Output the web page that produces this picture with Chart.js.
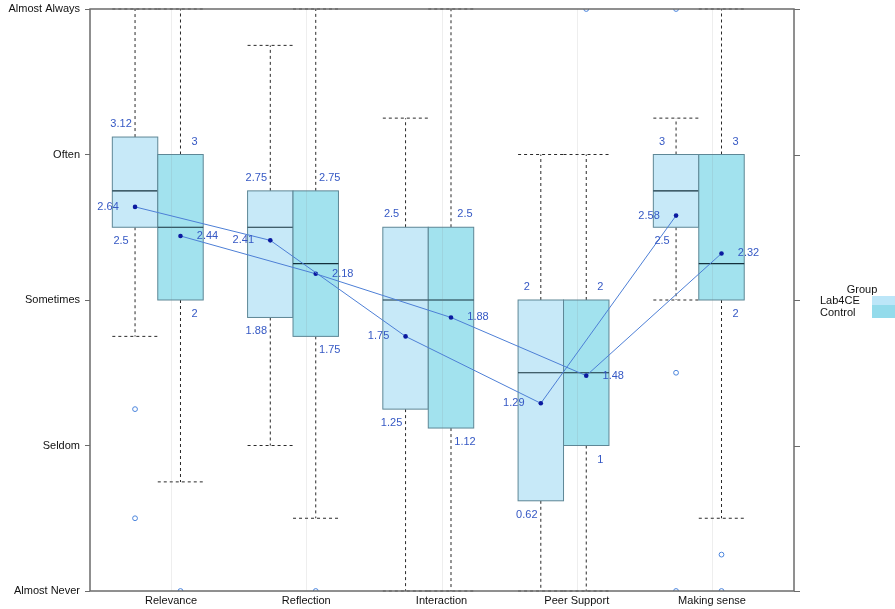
<!DOCTYPE html>
<html>
<head>
<meta charset="utf-8">
<script src="https://cdn.jsdelivr.net/npm/chart.js@4"></script>
<style>
  html, body { margin: 0; padding: 0; background: #fff; }
  canvas { display: block; }
</style>
</head>
<body>
<canvas id="boxChart" width="895" height="609" style="width:895px;height:609px"></canvas>
<script>
// categories and scale labels
const categories = ["Relevance", "Reflection", "Interaction", "Peer Support", "Making sense"];
const levelLabels = ["Almost Never", "Seldom", "Sometimes", "Often", "Almost Always"];

// Lab4CE group
const lab4ceLow = [1.75, 1, 0, 0, 2];
const lab4ceQ1 = [2.5, 1.88, 1.25, 0.62, 2.5];
const lab4ceMedian = [2.75, 2.5, 2, 1.5, 2.75];
const lab4ceQ3 = [3.12, 2.75, 2.5, 2, 3];
const lab4ceHigh = [4, 3.75, 3.25, 3, 3.25];
const lab4ceMean = [2.64, 2.41, 1.75, 1.29, 2.58];
const lab4ceOutliers = [[1.25, 0.5], [], [], [], [1.5, 0, 4]];

// Control group
const controlLow = [0.75, 0.5, 0, 0, 0.5];
const controlQ1 = [2, 1.75, 1.12, 1, 2];
const controlMedian = [2.5, 2.25, 2, 1.5, 2.25];
const controlQ3 = [3, 2.75, 2.5, 2, 3];
const controlHigh = [4, 4, 4, 3, 4];
const controlMean = [2.44, 2.18, 1.88, 1.48, 2.32];
const controlOutliers = [[0], [0], [], [4], [0.25, 0]];

// box geometry (x units, one category = 1)
const halfW = 0.168;
const groups = [
  { name: "Lab4CE", offset: -0.266, side: -1, fill: "#c7e9f8",
    low: lab4ceLow, q1: lab4ceQ1, med: lab4ceMedian, q3: lab4ceQ3, high: lab4ceHigh, mean: lab4ceMean, out: lab4ceOutliers },
  { name: "Control", offset: 0.07, side: 1, fill: "#a2e2ee",
    low: controlLow, q1: controlQ1, med: controlMedian, q3: controlQ3, high: controlHigh, mean: controlMean, out: controlOutliers }
];

const FONT = "11px 'Liberation Sans', Arial, sans-serif";
const LABEL_COLOR = "#3558c4";

function line(ctx, x1, y1, x2, y2) {
  ctx.beginPath();
  ctx.moveTo(x1, y1);
  ctx.lineTo(x2, y2);
  ctx.stroke();
}

const boxPlugin = {
  id: "boxes",
  beforeDatasetsDraw(chart) {
    const { ctx, chartArea: a, scales: { x, y } } = chart;
    ctx.save();
    groups.forEach((g) => {
      categories.forEach((c, i) => {
        const cx = i + 1 + g.offset;
        const left = x.getPixelForValue(cx - halfW);
        const right = x.getPixelForValue(cx + halfW);
        const mid = x.getPixelForValue(cx);
        const yLow = y.getPixelForValue(g.low[i]);
        const yQ1 = y.getPixelForValue(g.q1[i]);
        const yMed = y.getPixelForValue(g.med[i]);
        const yQ3 = y.getPixelForValue(g.q3[i]);
        const yHigh = y.getPixelForValue(g.high[i]);

        // whiskers
        ctx.strokeStyle = "#2a2a2a";
        ctx.lineWidth = 1;
        ctx.setLineDash([3, 3]);
        line(ctx, mid, yQ3, mid, yHigh);
        line(ctx, left, yHigh, right, yHigh);
        line(ctx, mid, yQ1, mid, yLow);
        line(ctx, left, yLow, right, yLow);
        ctx.setLineDash([]);

        // box
        ctx.fillStyle = g.fill;
        ctx.fillRect(left, yQ3, right - left, yQ1 - yQ3);
        ctx.strokeStyle = "#5e8796";
        ctx.strokeRect(left, yQ3, right - left, yQ1 - yQ3);

        // median
        ctx.strokeStyle = "#14303c";
        ctx.lineWidth = 1.2;
        line(ctx, left, yMed, right, yMed);
      });
    });

    // faint reference lines at category centres
    ctx.strokeStyle = "rgba(120,120,120,0.13)";
    ctx.lineWidth = 1;
    categories.forEach((c, i) => {
      const px = Math.round(x.getPixelForValue(i + 1)) + 0.5;
      line(ctx, px, a.top, px, a.bottom);
    });
    ctx.restore();
  },
  afterDatasetsDraw(chart) {
    const { ctx, scales: { x, y } } = chart;
    ctx.save();
    ctx.font = FONT;
    ctx.fillStyle = LABEL_COLOR;
    ctx.textAlign = "center";
    ctx.textBaseline = "middle";
    groups.forEach((g) => {
      categories.forEach((c, i) => {
        const mid = x.getPixelForValue(i + 1 + g.offset);
        ctx.fillText(String(g.q3[i]), mid + g.side * 14, y.getPixelForValue(g.q3[i]) - 13);
        ctx.fillText(String(g.q1[i]), mid + g.side * 14, y.getPixelForValue(g.q1[i]) + 14);
        ctx.fillText(String(g.mean[i]), mid + g.side * 27, y.getPixelForValue(g.mean[i]));
      });
    });
    ctx.restore();
  },
  afterDraw(chart) {
    const { ctx, chartArea: a, scales: { y } } = chart;
    ctx.save();
    // frame
    ctx.strokeStyle = "#6b6b6b";
    ctx.lineWidth = 1.5;
    ctx.strokeRect(a.left, a.top, a.right - a.left, a.bottom - a.top);
    // right-side ticks
    ctx.lineWidth = 1;
    levelLabels.forEach((l, v) => {
      const py = Math.round(y.getPixelForValue(v)) + 0.5;
      line(ctx, a.right, py, a.right + 6, py);
    });

    // legend
    const lx = a.right + 26;
    const ly = Math.round(y.getPixelForValue(2));
    ctx.font = FONT;
    ctx.fillStyle = "#111";
    ctx.textBaseline = "middle";
    ctx.textAlign = "center";
    ctx.fillText("Group", lx + 42, ly - 10);
    ctx.textAlign = "left";
    ctx.fillText(groups[0].name, lx, ly + 1);
    ctx.fillText(groups[1].name, lx, ly + 13);
    ctx.fillStyle = "#bce6f8";
    ctx.fillRect(lx + 52, ly - 4, 40, 9);
    ctx.fillStyle = "#93dbeb";
    ctx.fillRect(lx + 52, ly + 5, 40, 13);
    ctx.restore();
  }
};

function meanData(g) {
  return categories.map((c, i) => ({ x: i + 1 + g.offset, y: g.mean[i] }));
}

function outlierData(g) {
  const pts = [];
  g.out.forEach((vals, i) => {
    vals.forEach((v) => pts.push({ x: i + 1 + g.offset, y: v }));
  });
  return pts;
}

const datasets = [];
groups.forEach((g) => {
  datasets.push({
    label: g.name + " mean",
    data: meanData(g),
    showLine: true,
    borderColor: "#4d7fd6",
    borderWidth: 1,
    pointRadius: 2.3,
    pointBackgroundColor: "#0b1aa0",
    pointBorderWidth: 0,
  });
  datasets.push({
    label: g.name + " outliers",
    data: outlierData(g),
    showLine: false,
    pointStyle: "circle",
    pointRadius: 2.4,
    pointBorderColor: "#4a84dc",
    pointBackgroundColor: "rgba(0,0,0,0)",
    pointBorderWidth: 1,
  });
});

new Chart(document.getElementById("boxChart").getContext("2d"), {
  type: "scatter",
  data: { datasets: datasets },
  options: {
    responsive: false,
    animation: false,
    devicePixelRatio: 1,
    layout: { padding: { top: 9, right: 101, left: 0, bottom: 0 } },
    plugins: {
      legend: { display: false },
      tooltip: { enabled: false },
    },
    scales: {
      x: {
        type: "linear",
        min: 0.401,
        max: 5.606,
        afterBuildTicks: (scale) => {
          scale.ticks = categories.map((c, i) => ({ value: i + 1 }));
        },
        afterFit: (scale) => {
          scale.height = 18;
          scale.paddingLeft = 0;
          scale.paddingRight = 0;
        },
        grid: { display: false, drawTicks: false },
        border: { display: false },
        ticks: {
          padding: 3,
          color: "#111",
          font: { family: "'Liberation Sans', Arial, sans-serif", size: 11 },
          callback: (v) => categories[v - 1],
        },
      },
      y: {
        min: 0,
        max: 4,
        afterBuildTicks: (scale) => {
          scale.ticks = levelLabels.map((l, i) => ({ value: i }));
        },
        afterFit: (scale) => {
          scale.width = 90;
          scale.paddingTop = 0;
          scale.paddingBottom = 0;
        },
        grid: { drawOnChartArea: false, drawTicks: true, tickLength: 5, color: "#6b6b6b" },
        border: { display: false },
        ticks: {
          padding: 5,
          color: "#111",
          font: { family: "'Liberation Sans', Arial, sans-serif", size: 11 },
          callback: (v) => levelLabels[v],
        },
      },
    },
  },
  plugins: [boxPlugin],
});
</script>
</body>
</html>
